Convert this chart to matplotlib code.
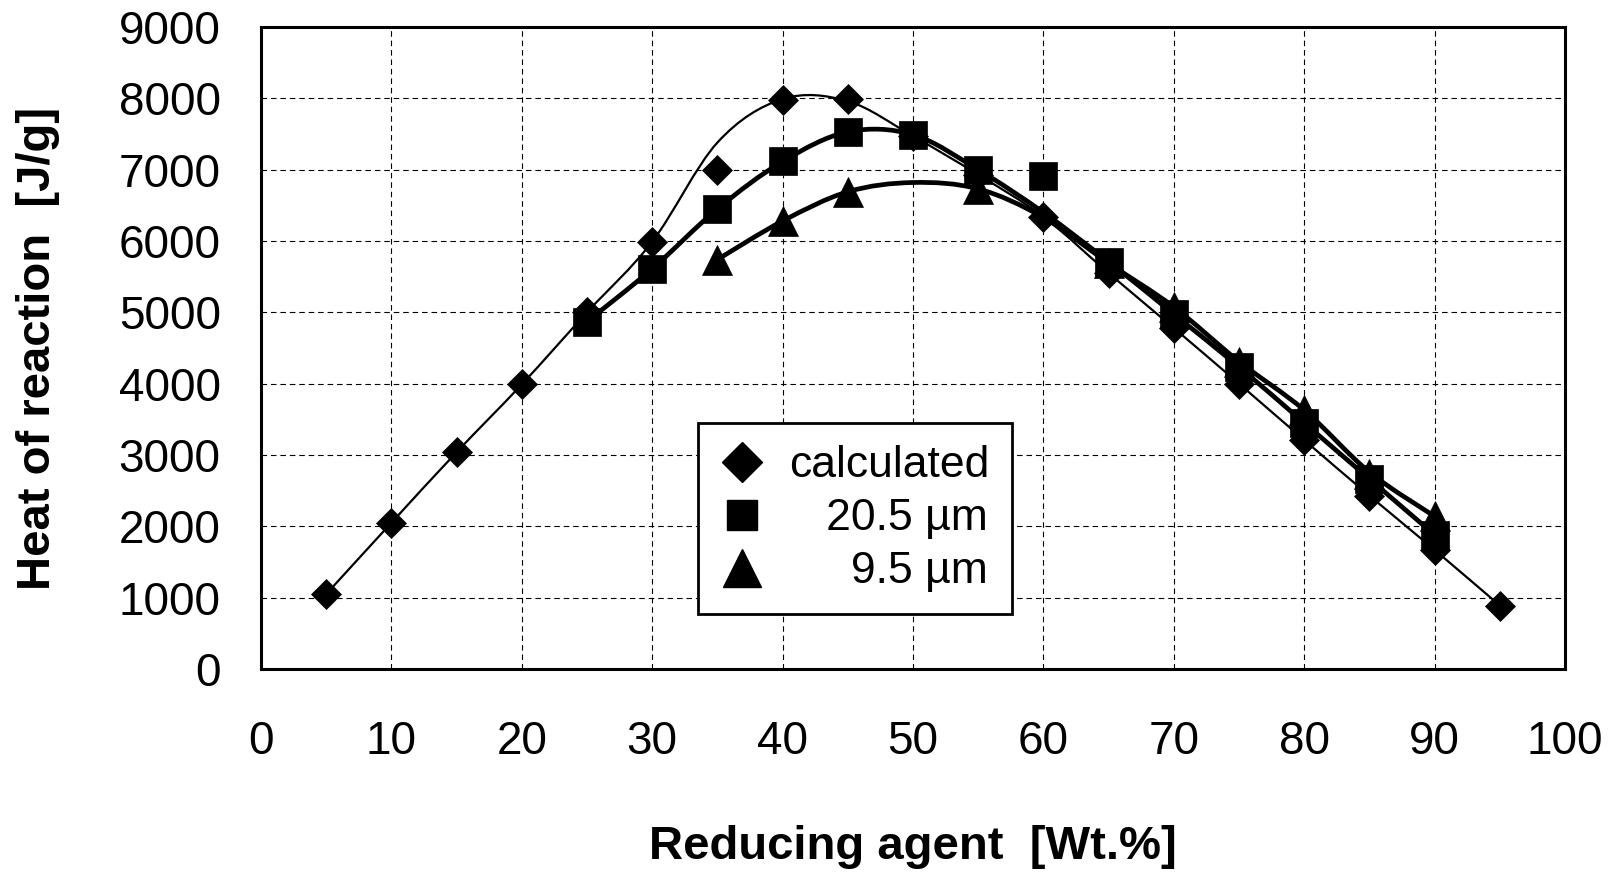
import numpy as np
import matplotlib
matplotlib.use('Agg')
import matplotlib.pyplot as plt
from matplotlib.path import Path
from matplotlib.patches import PathPatch
from matplotlib.lines import Line2D

plt.rcParams['font.family'] = ['Liberation Sans', 'DejaVu Sans']

# ---- marker data ----
calc_x = [5, 10, 15, 20, 25, 30, 35, 40, 45, 50, 55, 60, 65, 70, 75, 80, 85, 90, 95]
calc_y = [1050, 2050, 3040, 3990, 5000, 5990, 7000, 7970, 7985, 7470, 6930, 6340,
          5550, 4780, 4000, 3210, 2430, 1670, 890]

sq_x = [25, 30, 35, 40, 45, 50, 55, 65, 70, 75, 80, 85, 90]
sq_y = [4870, 5610, 6450, 7115, 7530, 7490, 7000, 5710, 4975, 4235, 3450, 2665, 1880]
sq_extra_x = [60]
sq_extra_y = [6910]

tri_x = [35, 40, 45, 55, 65, 70, 75, 80, 85, 90]
tri_y = [5740, 6280, 6690, 6730, 5690, 5075, 4310, 3630, 2730, 2140]

# ---- curve (smoothed line) data ----
calc_curve_x = [5, 10, 15, 20, 25, 30, 35, 40, 45, 50, 55, 60, 65, 70, 75, 80, 85, 90, 95]
calc_curve_y = [1050, 2050, 3040, 3990, 5000, 5990, 7380, 7990, 7960, 7470, 6930, 6340,
                5550, 4780, 4000, 3210, 2430, 1670, 890]

sq_curve_x = [25, 30, 35, 40, 45, 50, 55, 60, 65, 70, 75, 80, 85, 90]
sq_curve_y = [4870, 5610, 6450, 7115, 7530, 7490, 7000, 6400, 5710, 4975, 4235, 3450, 2665, 1880]

tri_curve_x = [35, 40, 45, 50, 55, 60, 65, 70, 75, 80, 85, 90]
tri_curve_y = [5740, 6280, 6690, 6820, 6730, 6330, 5690, 5075, 4310, 3630, 2760, 2140]

labels = ['calculated', '   20.5 µm', '     9.5 µm']
x_ticks = list(range(0, 101, 10))
y_ticks = list(range(0, 9001, 1000))


def smooth_path(xs, ys):
    xs = np.asarray(xs, float)
    ys = np.asarray(ys, float)
    pts = np.column_stack([xs, ys])
    n = len(pts)
    verts = [tuple(pts[0])]
    codes = [Path.MOVETO]
    for i in range(n - 1):
        p0 = pts[i - 1] if i > 0 else pts[i]
        p1 = pts[i]
        p2 = pts[i + 1]
        p3 = pts[i + 2] if i + 2 < n else pts[i + 1]
        c1 = p1 + (p2 - p0) / 6.0
        c2 = p2 - (p3 - p1) / 6.0
        verts += [tuple(c1), tuple(c2), tuple(p2)]
        codes += [Path.CURVE4] * 3
    return Path(verts, codes)


fig = plt.figure(figsize=(16.2, 8.74), dpi=100)
ax = fig.add_axes([261 / 1620, 1 - 669 / 874, 1304 / 1620, 642 / 874])

ax.set_xlim(0, 100)
ax.set_ylim(0, 9000)
ax.set_xticks(x_ticks)
ax.set_yticks(y_ticks)
ax.grid(True, color='black', linestyle=(0, (5, 3.5)), linewidth=0.8)
ax.set_axisbelow(True)
for s in ax.spines.values():
    s.set_linewidth(2.2)
    s.set_color('black')
ax.tick_params(axis='both', length=0, labelsize=33)
ax.tick_params(axis='y', pad=29)
ax.tick_params(axis='x', pad=37)

# curves
for cx, cy, lw, z in [(calc_curve_x, calc_curve_y, 1.6, 3),
                      (sq_curve_x, sq_curve_y, 3.4, 3),
                      (tri_curve_x, tri_curve_y, 3.4, 3)]:
    patch = PathPatch(smooth_path(cx, cy), fill=False, edgecolor='black', lw=lw,
                      capstyle='round', joinstyle='round', zorder=z)
    ax.add_patch(patch)

# markers
ax.plot(tri_x, tri_y, ls='none', marker='^', ms=22, color='black', mew=0.5, zorder=4)
ax.plot(calc_x, calc_y, ls='none', marker='D', ms=15.5, color='black', mew=0.5, zorder=5)
ax.plot(sq_x, sq_y, ls='none', marker='s', ms=20, color='black', mew=0.5, zorder=6)
ax.plot(sq_extra_x, sq_extra_y, ls='none', marker='s', ms=20, color='black', mew=0.5, zorder=6)

ax.set_xlabel('Reducing agent  [Wt.%]', fontsize=34, fontweight='bold')
ax.set_ylabel('Heat of reaction  [J/g]', fontsize=34, fontweight='bold')
ax.xaxis.label.set_va('center')
ax.yaxis.label.set_va('center')
ax.xaxis.set_label_coords(0.5, (669 - 847) / 642)
ax.yaxis.set_label_coords((38 - 261) / 1304, 0.5)

handles = [Line2D([], [], ls='none', marker='D', ms=20, color='black'),
           Line2D([], [], ls='none', marker='s', ms=22, color='black'),
           Line2D([], [], ls='none', marker='^', ms=28, color='black')]
leg = ax.legend(handles, labels, loc='upper left',
                bbox_to_anchor=((698 - 261) / 1304, (669 - 423) / 642),
                fontsize=32, frameon=True, fancybox=False, shadow=False,
                edgecolor='black', framealpha=1, borderpad=0.5,
                handlelength=1.0, handletextpad=0.55, labelspacing=0.27,
                borderaxespad=0)
leg.get_frame().set_linewidth(2)
leg.set_zorder(10)

fig.savefig('out.png', dpi=100)
